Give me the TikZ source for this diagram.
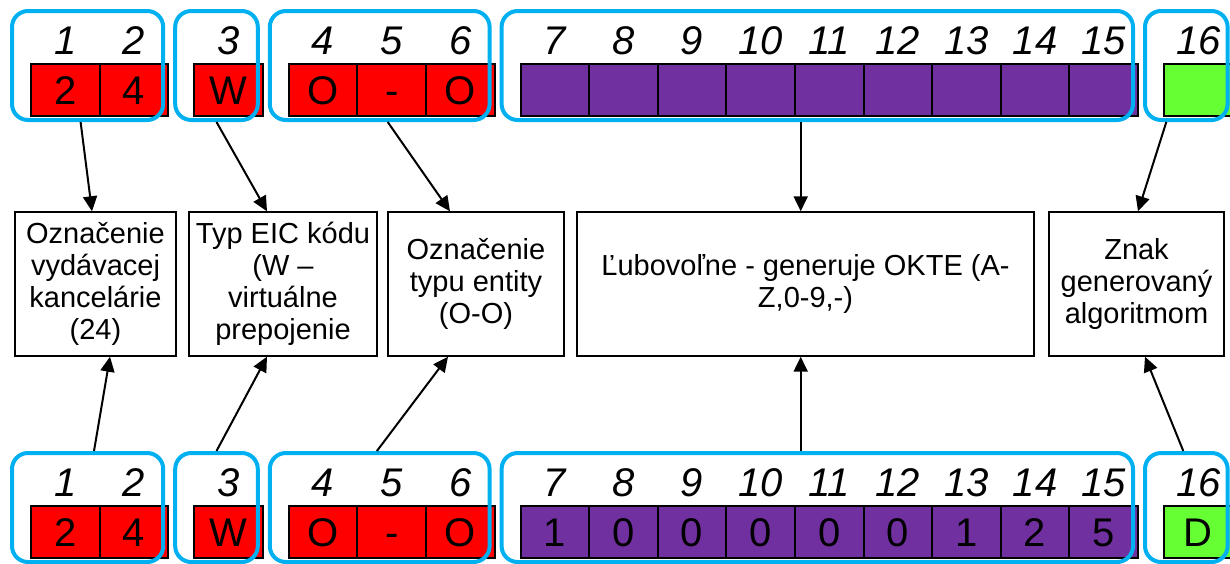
\documentclass[tikz,border=0pt]{standalone}
\usepackage{fontspec}
\setmainfont{Liberation Sans}
\usetikzlibrary{chains,fit,positioning,arrows.meta}
\definecolor{eicred}{HTML}{FF0000}
\definecolor{eicpurple}{HTML}{7030A0}
\definecolor{eicgreen}{HTML}{66FF33}
\definecolor{eicblue}{HTML}{00B0F0}

\begin{document}
\begin{tikzpicture}
\useasboundingbox (0,0) rectangle (615pt,-281.5pt);
\edef\sizecell{34.3pt}
\tikzstyle{cell}=[draw,line width=1pt,minimum width=\sizecell,minimum height=26pt,inner sep=0pt,text height=14.3pt,text depth=0pt,font=\fontsize{20}{24}\selectfont]
\tikzstyle{redcell}=[cell,fill=eicred]
\tikzstyle{purplecell}=[cell,fill=eicpurple]
\tikzstyle{greencell}=[cell,fill=eicgreen]
\tikzstyle{num}=[font=\fontsize{20}{24}\selectfont\itshape,inner sep=1pt,label distance=3pt]
\tikzstyle{grp}=[draw=eicblue,line width=2pt,rounded corners=8pt,inner sep=0pt]
\tikzstyle{desc}=[draw,line width=0.7pt,align=center,minimum height=72pt,inner sep=2pt,font=\fontsize{14.5}{16}\selectfont]
\tikzstyle{link}=[-{Triangle[length=7.5pt,width=7pt]},line width=1pt]
% upper code row
\begin{scope}[shift={(32.65pt,-45pt)},start chain=top going right,node distance=-1pt]
 \node [on chain=top,redcell,label={[num]above:1}] (t1) {2};
 \node [on chain=top,redcell,label={[num]above:2}] (t2) {4};
 \node [on chain=top,redcell,label={[num]above:3},xshift=13pt] (t3) {W};
 \node [on chain=top,redcell,label={[num]above:4},xshift=13pt] (t4) {O};
 \node [on chain=top,redcell,label={[num]above:5}] (t5) {-};
 \node [on chain=top,redcell,label={[num]above:6}] (t6) {O};
 \node [on chain=top,purplecell,label={[num]above:7},xshift=13pt] (t7) {};
 \node [on chain=top,purplecell,label={[num]above:8}] (t8) {};
 \node [on chain=top,purplecell,label={[num]above:9}] (t9) {};
 \node [on chain=top,purplecell,label={[num]above:10}] (t10) {};
 \node [on chain=top,purplecell,label={[num]above:11}] (t11) {};
 \node [on chain=top,purplecell,label={[num]above:12}] (t12) {};
 \node [on chain=top,purplecell,label={[num]above:13}] (t13) {};
 \node [on chain=top,purplecell,label={[num]above:14}] (t14) {};
 \node [on chain=top,purplecell,label={[num]above:15}] (t15) {};
 \node [on chain=top,greencell,label={[num]above:16},xshift=13pt] (t16) {};
\end{scope}
% lower code row
\begin{scope}[shift={(32.65pt,-266pt)},start chain=bot going right,node distance=-1pt]
 \node [on chain=bot,redcell,label={[num]above:1}] (b1) {2};
 \node [on chain=bot,redcell,label={[num]above:2}] (b2) {4};
 \node [on chain=bot,redcell,label={[num]above:3},xshift=13pt] (b3) {W};
 \node [on chain=bot,redcell,label={[num]above:4},xshift=13pt] (b4) {O};
 \node [on chain=bot,redcell,label={[num]above:5}] (b5) {-};
 \node [on chain=bot,redcell,label={[num]above:6}] (b6) {O};
 \node [on chain=bot,purplecell,label={[num]above:7},xshift=13pt] (b7) {1};
 \node [on chain=bot,purplecell,label={[num]above:8}] (b8) {0};
 \node [on chain=bot,purplecell,label={[num]above:9}] (b9) {0};
 \node [on chain=bot,purplecell,label={[num]above:10}] (b10) {0};
 \node [on chain=bot,purplecell,label={[num]above:11}] (b11) {0};
 \node [on chain=bot,purplecell,label={[num]above:12}] (b12) {0};
 \node [on chain=bot,purplecell,label={[num]above:13}] (b13) {1};
 \node [on chain=bot,purplecell,label={[num]above:14}] (b14) {2};
 \node [on chain=bot,purplecell,label={[num]above:15}] (b15) {5};
 \node [on chain=bot,greencell,label={[num]above:16},xshift=13pt] (b16) {D};
\end{scope}
% blue groups
\node [grp,fit={([shift={(-9pt,26pt)}]t1.north west) ([shift={(-3pt,-1.5pt)}]t2.south east)}] (tg1) {};
\node [grp,fit={([shift={(-9pt,26pt)}]t3.north west) ([shift={(-3pt,-1.5pt)}]t3.south east)}] (tg2) {};
\node [grp,fit={([shift={(-9pt,26pt)}]t4.north west) ([shift={(-3pt,-1.5pt)}]t6.south east)}] (tg3) {};
\node [grp,fit={([shift={(-9pt,26pt)}]t7.north west) ([shift={(-3pt,-1.5pt)}]t15.south east)}] (tg4) {};
\node [grp,fit={([shift={(-9pt,26pt)}]t16.north west) ([shift={(-3pt,-1.5pt)}]t16.south east)}] (tg5) {};
\node [grp,fit={([shift={(-9pt,26pt)}]b1.north west) ([shift={(-3pt,-1.5pt)}]b2.south east)}] (bg1) {};
\node [grp,fit={([shift={(-9pt,26pt)}]b3.north west) ([shift={(-3pt,-1.5pt)}]b3.south east)}] (bg2) {};
\node [grp,fit={([shift={(-9pt,26pt)}]b4.north west) ([shift={(-3pt,-1.5pt)}]b6.south east)}] (bg3) {};
\node [grp,fit={([shift={(-9pt,26pt)}]b7.north west) ([shift={(-3pt,-1.5pt)}]b15.south east)}] (bg4) {};
\node [grp,fit={([shift={(-9pt,26pt)}]b16.north west) ([shift={(-3pt,-1.5pt)}]b16.south east)}] (bg5) {};
% meaning of the parts
\node [desc,minimum width=80.5pt] (office) at (47.75pt,-142pt) {Označenie\\vydávacej\\kancelárie\\(24)};
\node [desc,minimum width=94pt] (type) at (141.5pt,-142pt) {Typ EIC kódu\\(W –\\virtuálne\\prepojenie};
\node [desc,minimum width=88pt] (entity) at (238pt,-142pt) {Označenie\\typu entity\\(O-O)};
\node [desc,minimum width=228.5pt] (free) at (402.75pt,-142pt) {Ľubovoľne - generuje OKTE (A-\\Z,0-9,-)};
\node [desc,minimum width=87.5pt] (check) at (568.25pt,-142pt) {Znak\\generovaný\\algoritmom};
% arrows
\draw [link] ([xshift=-3.5pt]tg1.south) -- ([xshift=-1.75pt]office.north);
\draw [link] (tg2.south) -- ([xshift=-8pt]type.north);
\draw [link] ([xshift=4pt]tg3.south) -- ([xshift=-13pt]entity.north);
\draw [link] ([xshift=-2.4pt]free.north |- tg4.south) -- ([xshift=-2.4pt]free.north);
\draw [link] ([xshift=-10pt]tg5.south) -- ([xshift=0.75pt]check.north);
\draw [link] ([xshift=3.2pt]bg1.north) -- ([xshift=7.25pt]office.south);
\draw [link] (bg2.north) -- ([xshift=-8pt]type.south);
\draw [link] ([xshift=-1.4pt]bg3.north) -- ([xshift=-14pt]entity.south);
\draw [link] ([xshift=-2.4pt]free.south |- bg4.north) -- ([xshift=-2.4pt]free.south);
\draw [link] ([xshift=-1.5pt]bg5.north) -- ([xshift=4.25pt]check.south);
\end{tikzpicture}
\end{document}
